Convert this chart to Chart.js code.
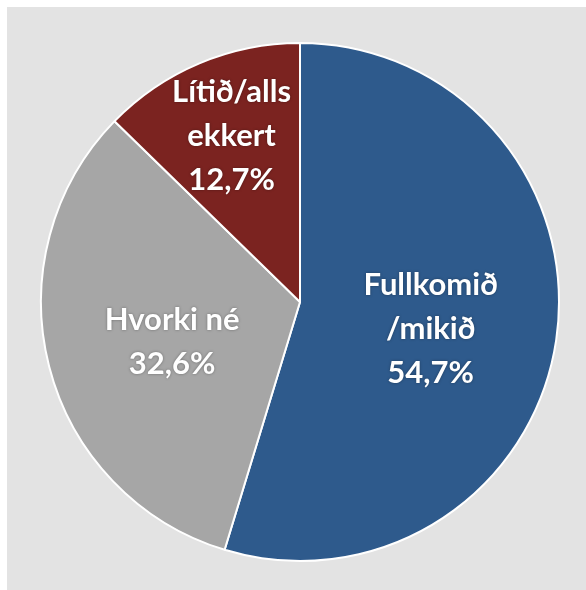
<!DOCTYPE html>
<html>
<head>
<meta charset="utf-8">
<script src="https://cdn.jsdelivr.net/npm/chart.js@4"></script>
<style>
  body { margin: 0; background: #ffffff; }
  #frame { position: absolute; left: 7px; top: 7px; width: 579px; height: 583px; background: #e3e3e3; }
</style>
</head>
<body>
<div id="frame"><canvas id="myChart" width="579" height="583"></canvas></div>
<script>
var categories = [['Fullkomið', '/mikið'], ['Hvorki né'], ['Lítið/alls', 'ekkert']];
var values = [54.7, 32.6, 12.7];
var colors = ['#2e5a8c', '#a6a6a6', '#7b2320'];

// where each label sits: fraction of the radius along the slice's middle, plus a small vertical nudge
var labelRadius = [0.51, 0.51, 0.68];
var labelNudge = [8, 7, -4];

// draws the white labels inside each slice
var sliceLabels = {
    id: 'sliceLabels',
    afterDatasetsDraw: function (chart) {
        var ctx = chart.ctx;
        var arcs = chart.getDatasetMeta(0).data;
        ctx.save();
        ctx.font = 'bold 31px Lato';
        ctx.fillStyle = '#ffffff';
        ctx.textAlign = 'center';
        ctx.textBaseline = 'middle';
        ctx.shadowColor = 'rgba(0,0,0,0.35)';
        ctx.shadowBlur = 3;
        arcs.forEach(function (arc, i) {
            var p = arc.getProps(['x', 'y', 'startAngle', 'endAngle', 'outerRadius'], true);
            var mid = (p.startAngle + p.endAngle) / 2;
            var r = p.outerRadius * labelRadius[i];
            var cx = p.x + Math.cos(mid) * r;
            var cy = p.y + Math.sin(mid) * r + labelNudge[i];
            var lines = categories[i].concat([values[i].toFixed(1).replace('.', ',') + '%']);
            var lh = 44;
            lines.forEach(function (t, j) {
                ctx.fillText(t, cx, cy + (j - (lines.length - 1) / 2) * lh);
            });
        });
        ctx.restore();
    }
};

var ctx = document.getElementById('myChart').getContext('2d');
var myChart = new Chart(ctx, {
    type: 'pie',
    data: {
        labels: categories.map(function (c) { return c.join(' '); }),
        datasets: [{
            data: values,
            backgroundColor: colors,
            borderColor: '#ffffff',
            borderWidth: 2
        }]
    },
    options: {
        responsive: false,
        animation: false,
        layout: { padding: { left: 33, right: 26, top: 34, bottom: 27 } },
        plugins: {
            legend: { display: false },
            tooltip: { enabled: false }
        }
    },
    plugins: [sliceLabels]
});
</script>
</body>
</html>
